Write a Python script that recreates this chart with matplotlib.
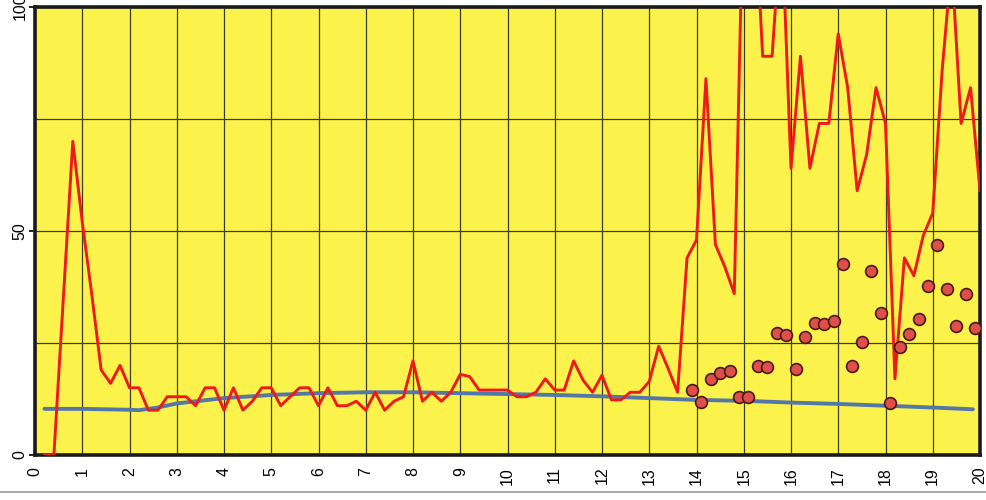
import matplotlib
matplotlib.use("Agg")
import matplotlib.pyplot as plt
from matplotlib.lines import Line2D

plt.rcParams['font.family'] = ['Liberation Sans', 'DejaVu Sans']

# red series: sampled every 0.2 from 0.2 to 20.0
red_x = [round(0.2 * i, 1) for i in range(1, 101)]
red_y = [0, 0, 35, 70, 52, 36, 19, 16, 20, 15,
         15, 10, 10, 13, 13, 13, 11, 15, 15, 10,
         15, 10, 12, 15, 15, 11, 13, 15, 15, 11,
         15, 11, 11, 12, 10, 14, 10, 12, 13, 21,
         12, 14, 12, 14, 18, 17.5, 14.5, 14.5, 14.5, 14.5,
         13, 13, 14, 17, 14.5, 14.5, 21, 16.7, 14, 17.8,
         12.3, 12.3, 14, 14, 16.4, 24.3, 19.3, 14, 44, 48,
         84, 47, 42, 36, 130, 130, 89, 89, 120, 64,
         89, 64, 74, 74, 94, 82, 59, 67, 82, 74,
         17, 44, 40, 49, 54, 86, 110, 74, 82, 59]

# blue trend line
blue_x = [0.2, 1, 2, 2.2, 2.6, 3, 4, 5, 6, 7, 8, 9, 10, 11, 12, 13, 14, 15, 16, 17, 18, 19, 19.85]
blue_y = [10.3, 10.3, 10.1, 10.0, 10.6, 11.5, 12.7, 13.4, 13.8, 14.0, 14.0, 13.8, 13.6, 13.4, 13.1, 12.7, 12.3, 12.1, 11.7, 11.4, 11.0, 10.6, 10.2]

# dots
dot_x = [round(13.9 + 0.2 * i, 1) for i in range(31)]
dot_y = [14.5, 11.9, 16.9, 18.4, 18.8, 13, 13, 19.9, 19.7, 27.3,
         26.8, 19.1, 26.4, 29.5, 29.2, 30, 42.6, 19.9, 25.3, 41,
         31.8, 11.5, 24.2, 27, 30.3, 37.7, 46.9, 37, 28.8, 35.9, 28.3]

x_ticks = list(range(0, 21))
y_ticks = [0, 50, 100]
y_minor = [25, 75]

fig = plt.figure(figsize=(9.86, 5.0), dpi=100)
ax = fig.add_axes([35/986, 1 - 455/500, (980 - 35)/986, (455 - 7)/500])
ax.set_facecolor('#FBF34C')

ax.plot(blue_x, blue_y, color='#5577A8', lw=2.8, zorder=3, solid_capstyle='round')
ax.plot(red_x, red_y, color='#EE1A1A', lw=2.1, zorder=4)
ax.plot(dot_x, dot_y, linestyle='none', marker='o', ms=8.5,
        markerfacecolor='#DE4E4A', markeredgecolor='#4A1A14', markeredgewidth=1.2, zorder=5)

ax.set_xlim(0, 20)
ax.set_ylim(0, 100)
ax.set_xticks(x_ticks)
ax.set_yticks(y_ticks)
ax.set_yticks(y_minor, minor=True)
ax.grid(True, which='both', color='#3C3C14', lw=0.9, zorder=1)
ax.set_axisbelow(True)

ax.set_xticklabels([str(t) for t in x_ticks], rotation=90, fontsize=11.5)
ax.set_yticklabels([str(t) for t in y_ticks], rotation=90, va='center', fontsize=11.5)
ax.tick_params(axis='x', length=0, pad=8.5)
ax.tick_params(axis='y', which='major', length=4, width=1.2, pad=1.5)
ax.tick_params(axis='y', which='minor', length=0)

for s in ax.spines.values():
    s.set_linewidth(2.6)
    s.set_color('#1A1A1A')

fig.add_artist(Line2D([0, 1], [1 - 492/500, 1 - 492/500], transform=fig.transFigure,
                      color='#9A9A9A', lw=1.2))

fig.savefig('out.png', dpi=100, facecolor='white')
